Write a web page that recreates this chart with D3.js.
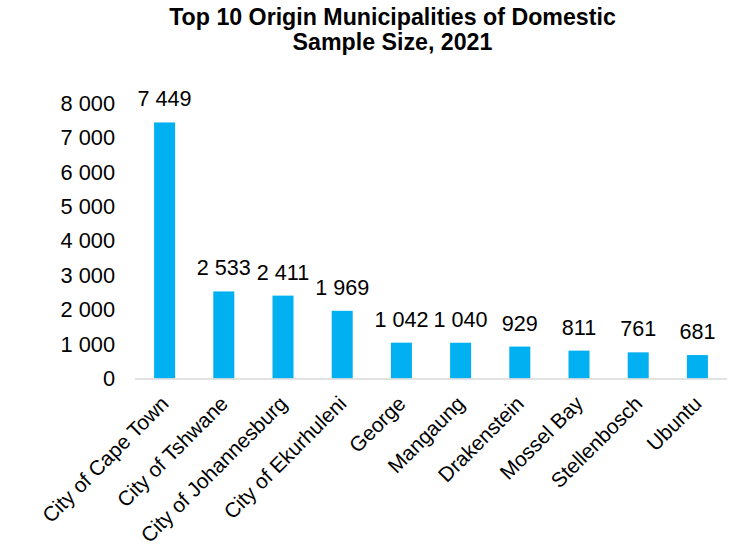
<!DOCTYPE html>
<html>
<head>
<meta charset="utf-8">
<script src="https://cdn.jsdelivr.net/npm/d3@7"></script>
<style>
  html, body { margin: 0; padding: 0; background: #fff; }
  svg { display: block; font-family: "Liberation Sans", Arial, sans-serif; }
</style>
</head>
<body>
<svg id="chart" width="735" height="547"></svg>
<script>
// Sample size by origin municipality (domestic), 2021
const municipalities = [
  "City of Cape Town", "City of Tshwane", "City of Johannesburg", "City of Ekurhuleni",
  "George", "Mangaung", "Drakenstein", "Mossel Bay", "Stellenbosch", "Ubuntu"
];
const sampleSize = [7449, 2533, 2411, 1969, 1042, 1040, 929, 811, 761, 681];
const yTicks = [0, 1000, 2000, 3000, 4000, 5000, 6000, 7000, 8000];
const titleLines = ["Top 10 Origin Municipalities of Domestic", "Sample Size, 2021"];

const svg = d3.select("#chart");
const margin = { left: 135, right: 8, top: 103.5, bottom: 168.5 };
const W = +svg.attr("width"), H = +svg.attr("height");

// space-separated thousands, e.g. 7 449
const fmt = v => d3.format(",")(v).replace(/,/g, " ");

const x = d3.scaleBand()
  .domain(municipalities)
  .range([margin.left, W - margin.right])
  .paddingInner(0.645)
  .paddingOuter(0.3225);

const y = d3.scaleLinear()
  .domain([0, 8000])
  .range([H - margin.bottom, margin.top]);

// title
svg.append("g")
  .selectAll("text")
  .data(titleLines)
  .join("text")
  .attr("x", 392.5)
  .attr("y", (d, i) => 25 + i * 25)
  .attr("text-anchor", "middle")
  .attr("font-size", 23.2)
  .attr("font-weight", "bold")
  .attr("fill", "#000")
  .text(d => d);

// y axis (labels only)
const yAxis = svg.append("g")
  .attr("transform", `translate(${margin.left - 20},0)`)
  .call(d3.axisLeft(y).tickValues(yTicks).tickFormat(fmt).tickSize(0).tickPadding(0));
yAxis.select(".domain").remove();
yAxis.selectAll("text")
  .attr("font-size", 21.8)
  .attr("font-family", "Liberation Sans, Arial, sans-serif")
  .attr("fill", "#000");

// bars
svg.append("g")
  .selectAll("rect")
  .data(sampleSize)
  .join("rect")
  .attr("x", (d, i) => x(municipalities[i]))
  .attr("width", x.bandwidth())
  .attr("y", d => y(d))
  .attr("height", d => y(0) - y(d))
  .attr("fill", "#00B0F0");

// baseline
svg.append("line")
  .attr("x1", margin.left)
  .attr("x2", W - margin.right)
  .attr("y1", y(0) + 0.5)
  .attr("y2", y(0) + 0.5)
  .attr("stroke", "#d9d9d9")
  .attr("stroke-width", 1.5);

// value labels
svg.append("g")
  .selectAll("text")
  .data(sampleSize)
  .join("text")
  .attr("x", (d, i) => x(municipalities[i]) + x.bandwidth() / 2)
  .attr("y", d => y(d) - 16)
  .attr("text-anchor", "middle")
  .attr("font-size", 21.6)
  .attr("fill", "#000")
  .text(d => fmt(d));

// category labels, rotated
svg.append("g")
  .selectAll("text")
  .data(municipalities)
  .join("text")
  .attr("transform", d => `translate(${x(d) + x.bandwidth() / 2 - 5},${y(0) + 16}) rotate(-45)`)
  .attr("text-anchor", "end")
  .attr("dy", "0.71em")
  .attr("font-size", 20.8)
  .attr("fill", "#000")
  .text(d => d);
</script>
</body>
</html>
